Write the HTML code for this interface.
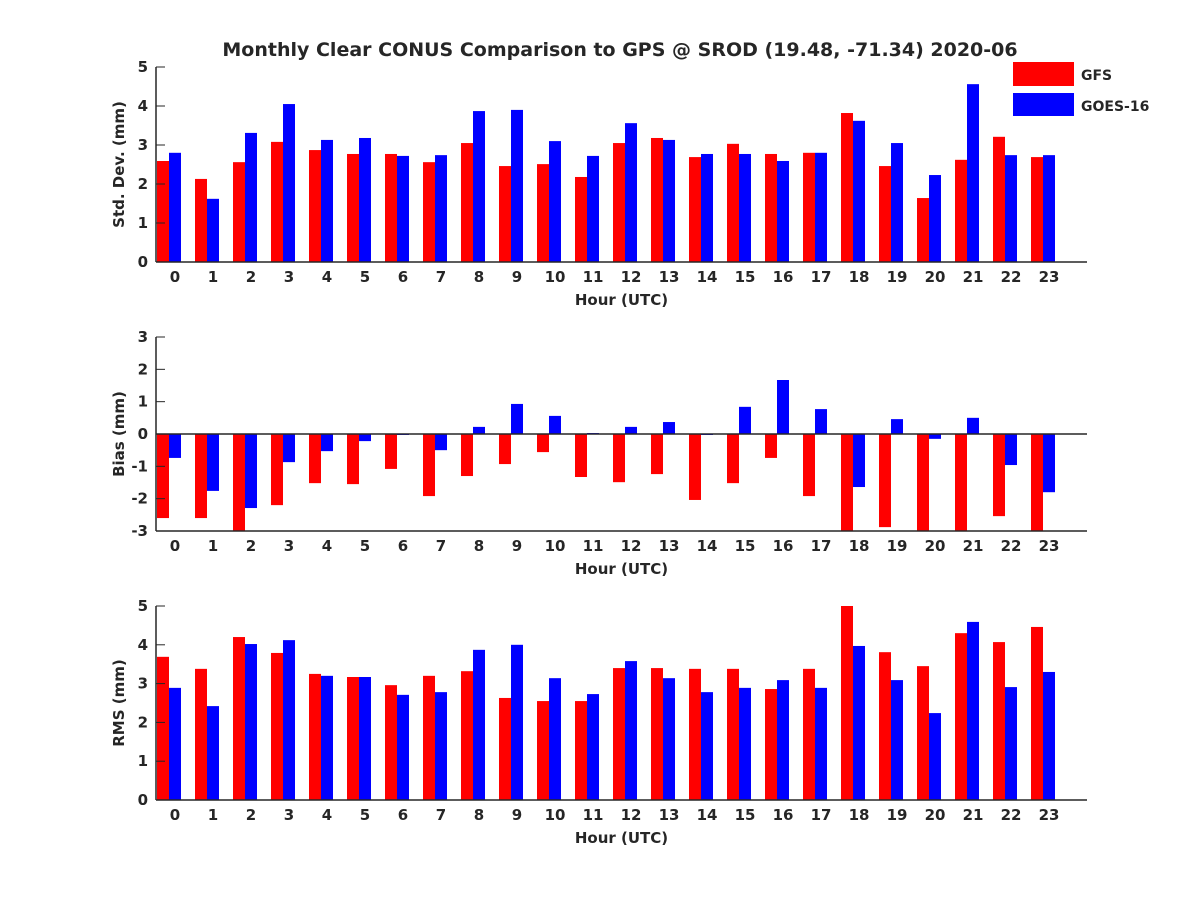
<!DOCTYPE html>
<html><head><meta charset="utf-8"><style>
body{margin:0;background:#fff;}
svg text{font-family:"DejaVu Sans","Liberation Sans",sans-serif;font-weight:bold;fill:#262626;}
</style></head><body>
<svg id="chart" width="1200" height="900" xmlns="http://www.w3.org/2000/svg">
<defs><clipPath id="clipBias"><rect x="156" y="337" width="931" height="194"/></clipPath></defs>
<rect width="1200" height="900" fill="#fff"/>
<text x="620" y="56" font-size="19" text-anchor="middle">Monthly Clear CONUS Comparison to GPS @ SROD (19.48, -71.34) 2020-06</text>
<g>
<rect x="1013" y="62" width="61" height="24" fill="#ff0000"/>
<text x="1081" y="80" font-size="14">GFS</text>
<rect x="1013" y="93" width="61" height="23" fill="#0000ff"/>
<text x="1081" y="111" font-size="14">GOES-16</text>
</g>
<g id="plots"></g>
</svg>
<script>
const hours = [0,1,2,3,4,5,6,7,8,9,10,11,12,13,14,15,16,17,18,19,20,21,22,23];
const stdGFS = [2.59,2.13,2.56,3.08,2.87,2.77,2.77,2.56,3.05,2.46,2.51,2.18,3.05,3.18,2.69,3.03,2.77,2.8,3.82,2.46,1.64,2.62,3.21,2.69];
const stdGOES = [2.8,1.62,3.31,4.05,3.13,3.18,2.72,2.74,3.87,3.9,3.1,2.72,3.56,3.13,2.77,2.77,2.59,2.8,3.62,3.05,2.23,4.56,2.74,2.74];
const biasGFS = [-2.6,-2.6,-3.2,-2.2,-1.52,-1.55,-1.08,-1.92,-1.3,-0.93,-0.56,-1.33,-1.49,-1.24,-2.04,-1.52,-0.74,-1.92,-3.5,-2.88,-3.3,-3.4,-2.54,-3.3];
const biasGOES = [-0.74,-1.76,-2.29,-0.87,-0.53,-0.22,-0.03,-0.5,0.22,0.93,0.56,0.03,0.22,0.37,-0.03,0.84,1.67,0.77,-1.64,0.46,-0.15,0.5,-0.96,-1.8];
const rmsGFS = [3.69,3.38,4.2,3.79,3.25,3.17,2.96,3.2,3.32,2.63,2.55,2.55,3.4,3.4,3.38,3.38,2.86,3.38,5.0,3.81,3.45,4.3,4.07,4.46];
const rmsGOES = [2.89,2.42,4.02,4.12,3.2,3.17,2.71,2.78,3.87,4.0,3.14,2.73,3.58,3.14,2.78,2.89,3.09,2.89,3.97,3.09,2.24,4.59,2.91,3.3];
const stdTicks = [0,1,2,3,4,5];
const biasTicks = [-3,-2,-1,0,1,2,3];
const rmsTicks = [0,1,2,3,4,5];

const NS='http://www.w3.org/2000/svg';
const root=document.getElementById('plots');
const X0=156,X1=1087;
function xs(h){return 175+38*h;}
function mk(tag,attrs,parent){const e=document.createElementNS(NS,tag);for(const k in attrs)e.setAttribute(k,attrs[k]);parent.appendChild(e);return e;}

function panel(name,top,bot,ymin,ymax,ticks,ylabel,red,blue,clip,zeroLine){
  const g=mk('g',{},root);
  
  
  const ys=v=>bot-(v-ymin)/(ymax-ymin)*(bot-top);
  const bars=mk('g',clip?{'clip-path':'url(#'+clip+')'}:{},g);
  const bw=12;
  hours.forEach((h,i)=>{
    [[red[i],'#ff0000',-18,'gfs'],[blue[i],'#0000ff',-6,'goes']].forEach(([v,c,off,s])=>{
      const y0=ys(0), y1=ys(v);
      const r=mk('rect',{x:xs(h)+off,y:Math.min(y0,y1),width:bw,height:Math.abs(y1-y0),fill:c},bars);
      
      
    });
  });
  mk('line',{x1:X0,y1:top,x2:X0,y2:bot,stroke:'#262626','stroke-width':1.5},g);
  mk('line',{x1:X0,y1:bot,x2:X1,y2:bot,stroke:'#262626','stroke-width':1.5},g);
  if(zeroLine) mk('line',{x1:X0,y1:ys(0),x2:X1,y2:ys(0),stroke:'#262626','stroke-width':1.5},g);
  ticks.forEach(t=>{
    const y=ys(t);
    mk('line',{x1:X0,y1:y,x2:X0+9,y2:y,stroke:'#262626','stroke-width':1},g);
    const tx=mk('text',{x:X0-8,y:y+5,'font-size':15,'text-anchor':'end'},g);
    tx.textContent=t;
    
    
  });
  hours.forEach(h=>{
    const x=xs(h);
    const tx=mk('text',{x:x,y:bot+20,'font-size':15,'text-anchor':'middle'},g);
    tx.textContent=h;
    
    
  });
  const xl=mk('text',{x:(X0+X1)/2,y:bot+43,'font-size':15,'text-anchor':'middle'},g);
  xl.textContent='Hour (UTC)';
  
  
  const cy=(top+bot)/2;
  const yl=mk('text',{x:124,y:cy,'font-size':15,'text-anchor':'middle',transform:'rotate(-90 124 '+cy+')'},g);
  yl.textContent=ylabel;
  
  
}
panel('std',67,262,0,5,stdTicks,'Std. Dev. (mm)',stdGFS,stdGOES,null,false);
panel('bias',337,531,-3,3,biasTicks,'Bias (mm)',biasGFS,biasGOES,'clipBias',true);
panel('rms',606,800,0,5,rmsTicks,'RMS (mm)',rmsGFS,rmsGOES,null,false);
</script>
</body></html>
